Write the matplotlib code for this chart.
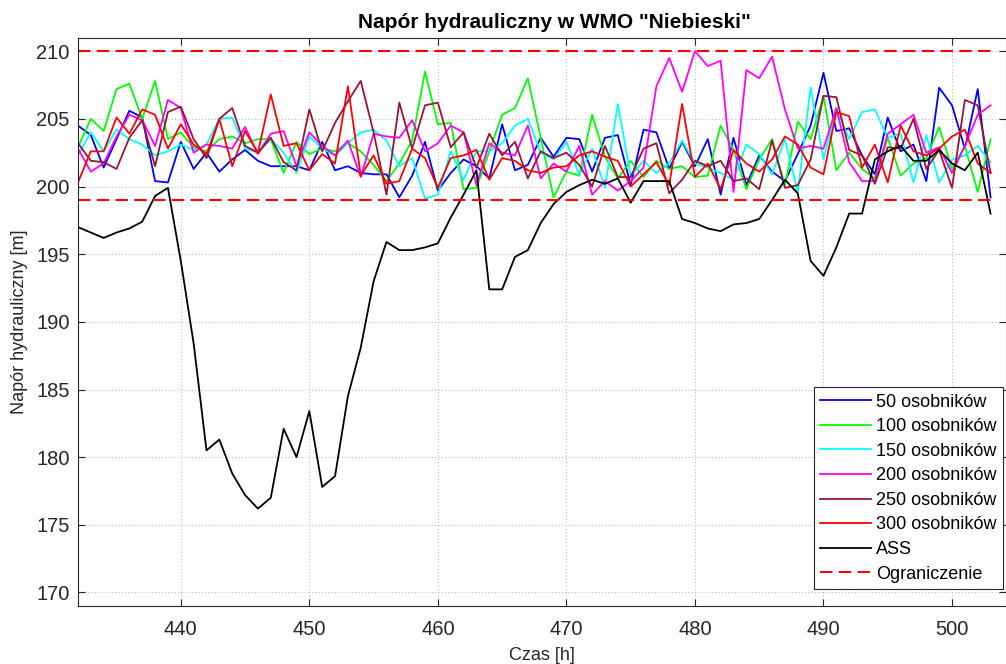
import numpy as np
import matplotlib
matplotlib.use("Agg")
import matplotlib.pyplot as plt

plt.rcParams['font.family'] = ['Liberation Sans', 'DejaVu Sans']

# time axis [h]
hours = np.arange(432, 504)

# pump head for each population size [m]
head_50 = [204.5, 203.8, 201.4, 203.5, 205.6, 205.1, 200.4, 200.3, 203.3, 201.3,
           202.5, 201.1, 202.0, 202.7, 201.9, 201.5, 201.5, 201.5, 201.2, 203.3,
           201.2, 201.5, 201.0, 200.9, 200.9, 199.2, 200.8, 203.3, 199.7, 201.0,
           202.0, 201.5, 200.6, 204.6, 201.2, 201.6, 203.6, 202.2, 203.6, 203.5,
           201.1, 203.6, 203.8, 200.1, 204.2, 204.0, 201.3, 203.3, 201.5, 203.5,
           199.4, 203.6, 200.1, 202.3, 201.1, 200.4, 202.4, 204.5, 208.4, 204.1,
           204.3, 202.3, 200.9, 205.1, 202.6, 203.1, 200.4, 207.3, 206.0, 202.8,
           207.2, 199.2]
head_100 = [202.9, 205.0, 204.1, 207.2, 207.6, 205.0, 207.8, 203.5, 204.0, 202.9,
            202.6, 203.5, 203.7, 203.2, 203.5, 203.5, 201.0, 203.3, 202.4, 202.8,
            202.6, 203.2, 202.6, 201.6, 200.4, 201.7, 203.4, 208.5, 204.6, 204.7,
            199.8, 199.9, 202.6, 205.3, 205.8, 208.0, 203.6, 199.2, 201.1, 200.8,
            205.3, 202.2, 200.6, 201.9, 200.7, 201.9, 201.3, 201.5, 200.7, 200.8,
            204.5, 202.7, 199.8, 202.0, 203.5, 200.1, 204.8, 203.5, 206.7, 201.2,
            202.5, 201.3, 200.6, 203.6, 200.8, 201.7, 202.1, 204.4, 201.3, 203.0,
            199.6, 203.5]
head_150 = [202.3, 204.0, 202.6, 204.2, 203.5, 203.1, 202.3, 202.6, 203.1, 202.7,
            203.1, 205.0, 205.1, 202.8, 202.5, 203.5, 202.5, 201.0, 203.7, 202.8,
            202.3, 203.2, 204.0, 204.2, 203.4, 201.5, 202.1, 199.1, 199.4, 202.6,
            200.5, 202.6, 202.6, 203.2, 204.5, 205.0, 202.5, 202.0, 203.3, 200.9,
            202.8, 199.9, 206.1, 200.8, 201.9, 201.0, 201.7, 203.4, 201.7, 201.4,
            201.0, 200.5, 203.1, 202.4, 200.9, 203.5, 199.6, 207.3, 202.0, 205.8,
            203.5, 205.5, 205.7, 203.6, 203.9, 200.3, 203.8, 200.3, 202.0, 202.3,
            203.0, 201.8]
head_200 = [202.8, 201.1, 201.7, 203.7, 205.3, 204.9, 203.0, 206.4, 205.8, 202.5,
            203.1, 203.0, 202.8, 204.4, 202.4, 203.9, 204.1, 201.5, 204.0, 203.0,
            202.3, 203.4, 200.7, 203.9, 203.7, 203.6, 204.9, 202.6, 203.2, 204.5,
            204.0, 200.1, 203.2, 202.5, 202.3, 204.5, 200.6, 201.7, 201.1, 203.0,
            199.4, 200.4, 199.7, 200.4, 201.4, 207.4, 209.5, 207.0, 210.0, 208.9,
            209.3, 199.6, 208.6, 208.0, 209.6, 205.7, 202.8, 203.0, 202.8, 205.8,
            201.8, 200.4, 200.4, 203.9, 204.6, 205.3, 202.5, 202.9, 201.0, 203.0,
            205.3, 206.0]
head_250 = [203.2, 201.9, 201.8, 201.3, 203.6, 204.9, 201.5, 205.5, 205.9, 203.5,
            202.1, 205.0, 205.8, 203.0, 202.5, 203.6, 201.8, 201.2, 205.7, 202.6,
            204.7, 206.3, 207.8, 204.0, 199.4, 206.2, 202.8, 206.0, 206.2, 202.9,
            204.0, 201.4, 203.9, 202.3, 203.3, 200.6, 202.6, 202.1, 202.5, 201.6,
            200.0, 203.0, 200.7, 200.7, 202.8, 203.2, 199.5, 200.5, 201.9, 201.5,
            201.9, 200.4, 200.6, 199.8, 203.4, 199.9, 200.1, 202.0, 206.7, 206.6,
            202.7, 202.3, 200.2, 202.9, 202.8, 205.0, 201.3, 202.7, 199.9, 206.4,
            206.0, 201.0]
head_300 = [200.3, 202.6, 202.6, 205.1, 203.9, 205.7, 205.3, 202.8, 204.6, 203.1,
            202.4, 205.0, 201.5, 204.1, 202.5, 206.8, 203.0, 203.2, 201.2, 202.4,
            201.7, 207.4, 200.8, 202.3, 200.2, 200.4, 202.8, 202.1, 199.9, 202.1,
            202.3, 202.7, 200.5, 202.1, 201.9, 201.2, 201.0, 201.4, 201.5, 202.3,
            202.6, 202.2, 201.9, 200.0, 200.9, 201.8, 200.1, 206.1, 200.7, 201.7,
            199.8, 202.7, 201.7, 201.1, 202.0, 203.7, 203.1, 201.4, 200.9, 205.5,
            205.2, 201.4, 203.1, 200.3, 204.5, 202.6, 202.3, 202.8, 203.7, 204.2,
            201.7, 201.0]
head_ass = [197.0, 196.6, 196.2, 196.6, 196.9, 197.4, 199.3, 199.9, 194.5, 188.4,
            180.5, 181.3, 178.8, 177.2, 176.2, 177.0, 182.1, 180.0, 183.4, 177.8,
            178.6, 184.5, 188.1, 193.0, 195.9, 195.3, 195.3, 195.5, 195.8, 197.7,
            199.4, 201.2, 192.4, 192.4, 194.8, 195.3, 197.3, 198.7, 199.6, 200.1,
            200.5, 200.2, 200.6, 198.8, 200.4, 200.4, 200.4, 197.6, 197.3, 196.9,
            196.7, 197.2, 197.3, 197.6, 199.0, 200.5, 199.5, 194.5, 193.4, 195.5,
            198.0, 198.0, 202.0, 202.6, 203.0, 201.9, 201.9, 202.7, 201.7, 201.2,
            202.5, 198.0]

limit_low = 199
limit_high = 210

labels = ['50 osobników', '100 osobników', '150 osobników', '200 osobników',
          '250 osobników', '300 osobników', 'ASS']
series = [head_50, head_100, head_150, head_200, head_250, head_300, head_ass]
colors = ['#0000ff', '#00ff00', '#00ffff', '#ff00ff', '#9b1430', '#ff0000', '#000000']

fig = plt.figure(figsize=(10.06, 6.64), dpi=100)
ax = fig.add_axes([0.0775, 0.0873, 0.9225, 0.856])

for s, c, lab in zip(series, colors, labels):
    ax.plot(hours, s, color=c, lw=1.3, label=lab)

# constraints
ax.plot(hours, np.full(len(hours), limit_high), color='#ff0000', lw=1.5,
        linestyle=(0, (6, 3)), label='Ograniczenie')
ax.plot(hours, np.full(len(hours), limit_low), color='#ff0000', lw=1.5,
        linestyle=(0, (6, 3)))

ax.set_xlim(432, 504.2)
ax.set_ylim(169, 211)
ax.set_xticks(np.arange(440, 501, 10))
ax.set_yticks(np.arange(170, 211, 5))
ax.grid(True, color='#bdbdbd', linestyle=(0, (1, 2)), lw=0.8)
ax.tick_params(direction='in', top=True, right=True, length=5, width=0.8,
               labelsize=14.5, colors='#262626')
ax.tick_params(axis='x', pad=10)
ax.tick_params(axis='y', pad=6)
for sp in ax.spines.values():
    sp.set_color('#262626')
    sp.set_linewidth(0.8)

# original figure was cropped on the right, so the title sits a bit right of centre
ax.set_title('Napór hydrauliczny w WMO "Niebieski"', fontsize=15,
             fontweight='bold', pad=7, x=0.513)
ax.set_xlabel('Czas [h]', fontsize=13, color='#262626', labelpad=6)
ax.set_ylabel('Napór hydrauliczny [m]', fontsize=13, color='#262626', labelpad=6)

leg = ax.legend(loc='lower right', bbox_to_anchor=(0.9968, 0.030), borderaxespad=0,
                fontsize=13, fancybox=False, edgecolor='#262626', framealpha=1,
                handlelength=2.8, handletextpad=0.3, labelspacing=0.42,
                borderpad=0.35)
leg.get_frame().set_linewidth(0.8)

fig.savefig('out.png', dpi=100)
